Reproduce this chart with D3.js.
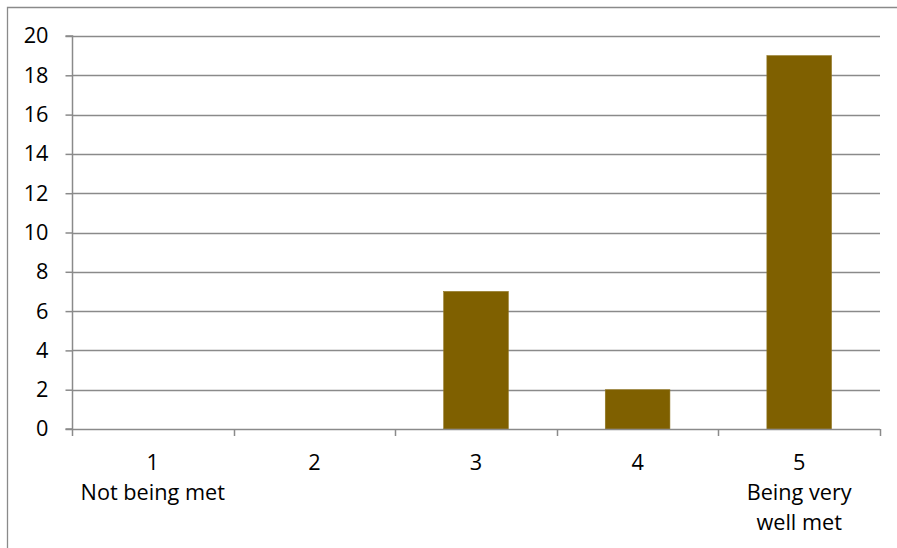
<!DOCTYPE html>
<html><head><meta charset="utf-8">
<script src="https://cdn.jsdelivr.net/npm/d3@7"></script>
<style>body{margin:0;background:#fff}svg{display:block}text{font-family:"Open Sans",sans-serif;fill:#000}</style>
</head><body>
<svg id="c" width="897" height="548"></svg>
<script>
const categories = ["1","2","3","4","5"];
const subLabels = [["Not being met"],[],[],[],["Being very","well met"]];
const values = [0,0,7,2,19];
const yTicks = [0,2,4,6,8,10,12,14,16,18,20];

const svg = d3.select("#c");
const m = {l:72, r:880, t:36, b:429};
const x = d3.scaleBand().domain(categories).range([m.l, m.r]).paddingInner(0).paddingOuter(0);
const y = d3.scaleLinear().domain([0,20]).range([m.b, m.t]);
const grid = "#8a8a8a";
const fs = 21.7;

// outer frame (cut at right and bottom)
svg.append("path").attr("d","M7.5,548 L7.5,7.5 L897,7.5").attr("fill","none").attr("stroke",grid).attr("stroke-width",1.3);

// gridlines
svg.append("g").selectAll("line").data(yTicks.filter(d=>d>0)).join("line")
  .attr("x1",m.l).attr("x2",m.r).attr("y1",d=>Math.round(y(d))+0.5).attr("y2",d=>Math.round(y(d))+0.5)
  .attr("stroke",grid).attr("stroke-width",1.5);

// bars
const bw = x.bandwidth()*0.4;
svg.append("g").selectAll("rect").data(values.map((v,i)=>({c:categories[i],v}))).join("rect")
  .attr("x",d=>x(d.c)+x.bandwidth()/2-bw/2).attr("width",bw)
  .attr("y",d=>y(d.v)).attr("height",d=>y(0)-y(d.v))
  .attr("fill","#7f6000").attr("stroke","#8f7420").attr("stroke-width",0.6);

// y axis
const ya = d3.axisLeft(y).tickValues(yTicks).tickSize(7).tickPadding(17).tickFormat(d3.format("d"));
const gy = svg.append("g").attr("transform",`translate(${m.l+0.5},0)`).call(ya);
gy.select(".domain").attr("stroke",grid).attr("stroke-width",1.5).attr("d",`M-7,${m.t}H0V${m.b}H-7`);
gy.selectAll(".tick line").attr("stroke",grid).attr("stroke-width",1.5);
gy.selectAll(".tick text").attr("font-size",fs).attr("font-family","Open Sans").attr("fill","#000");

// x axis line and ticks
const bounds = categories.map(c=>x(c)).concat([m.r]);
svg.append("line").attr("x1",m.l).attr("x2",m.r).attr("y1",m.b+0.5).attr("y2",m.b+0.5).attr("stroke",grid).attr("stroke-width",1.5);
svg.append("g").selectAll("line").data(bounds).join("line")
  .attr("x1",d=>Math.round(d)+0.5).attr("x2",d=>Math.round(d)+0.5).attr("y1",m.b).attr("y2",m.b+7)
  .attr("stroke",grid).attr("stroke-width",1.5);

// x labels
const xl = svg.append("g");
categories.forEach((c,i)=>{
  const cx = x(c)+x.bandwidth()/2;
  const lines = [c].concat(subLabels[i]);
  lines.forEach((t,j)=>{
    xl.append("text").attr("x",cx).attr("y",462+j*30).attr("dy","0.35em")
      .attr("text-anchor","middle").attr("font-size",fs).text(t);
  });
});
</script>
</body></html>
